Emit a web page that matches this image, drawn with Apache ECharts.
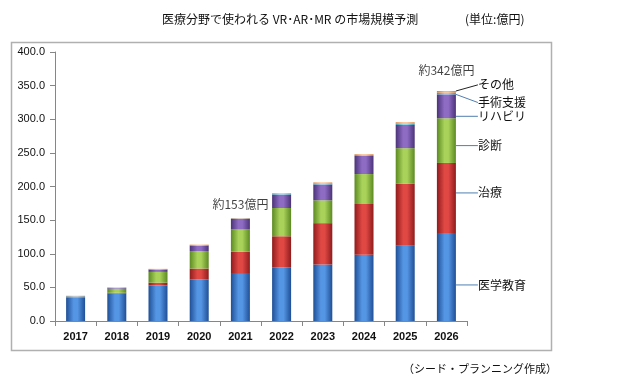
<!DOCTYPE html>
<html>
<head>
<meta charset="utf-8">
<script src="https://cdn.jsdelivr.net/npm/echarts@6/dist/echarts.min.js"></script>
<style>
html,body{margin:0;padding:0;background:#fff;}
#chart{width:629px;height:381px;}
</style>
</head>
<body>
<div id="chart"></div>
<script>
const categories = ['2017','2018','2019','2020','2021','2022','2023','2024','2025','2026'];
const yTicks = [0, 400, 50];
const seriesNames = ['医学教育','治療','診断','リハビリ','手術支援','その他'];
const eduValues   = [35, 41, 53, 62, 70, 80, 84, 98.5, 112, 131];
const treatValues = [0.5, 1, 4, 16, 33, 46, 61.5, 75.5, 92, 104];
const diagValues  = [0.5, 6, 16, 26, 33, 42, 34, 44.5, 53, 66.5];
const rehabValues = [0.5, 1, 3.5, 8, 16, 20, 23.5, 27, 34.5, 35.5];
const surgValues  = [0.5, 0.5, 0.5, 1, 0.5, 1, 1.5, 1.5, 2, 2.5];
const otherValues = [0.5, 0.5, 0.5, 0.5, 0.5, 1, 1.5, 1, 2, 2.5];
const totalCats   = ['2021', '2026'];
const totalValues = [153, 342];
const totalLabels = ['約153億円', '約342億円'];
const titleText = '医療分野で使われる VR･AR･MR の市場規模予測';
const unitText = '(単位:億円)';
const sourceText = '（シード・プランニング作成）';

const allValues = [eduValues, treatValues, diagValues, rehabValues, surgValues, otherValues];
const colors = [
  ['#1f4f95', '#5596e4'],
  ['#8f1c1c', '#e04844'],
  ['#5c8a22', '#a9d25a'],
  ['#4c3378', '#8e6cc4'],
  ['#3a95ad', '#8fd6e8'],
  ['#d87a30', '#fbb57c']
];
const labelDy = [8, -5, 5, 10, 9, -7];
const labelDx = [17, 17, 17, 17, 17, 17];
const lineColors = ['#4f7fb0','#4f7fb0','#4f7fb0','#4f7fb0','#4f7fb0','#222'];
const JP = '"Noto Sans CJK JP", "Noto Sans", sans-serif';

function grad(c) {
  return new echarts.graphic.LinearGradient(0, 0, 1, 0, [
    {offset: 0, color: c[0]},
    {offset: 0.4, color: c[1]},
    {offset: 0.6, color: c[1]},
    {offset: 1, color: c[0]}
  ]);
}

const lastIdx = categories.length - 1;
const series = seriesNames.map((name, s) => ({
  name: name,
  type: 'bar',
  stack: 'total',
  barWidth: 19,
  itemStyle: {color: grad(colors[s])},
  data: allValues[s].map((v, i) => i === lastIdx ? {
    value: v,
    label: {
      show: true, position: 'right', distance: 5,
      formatter: name, color: '#111', fontSize: 12, fontFamily: JP
    }
  } : v),
  labelLayout: function (p) {
    return p.dataIndex === lastIdx ? {dx: labelDx[s], dy: labelDy[s]} : {};
  },
  labelLine: {show: true, lineStyle: {color: lineColors[s], width: 1}},
  emphasis: {disabled: true}
}));

series.push({
  type: 'scatter',
  symbolSize: 0,
  data: totalCats.map((c, i) => ({
    value: [c, totalValues[i]],
    label: {
      show: true, position: 'top', distance: i === 0 ? 8 : 15,
      formatter: totalLabels[i], color: '#111', fontSize: 12, fontFamily: JP
    }
  })),
  z: 10
});

const chart = echarts.init(document.getElementById('chart'), null, {renderer: 'canvas'});
chart.setOption({
  animation: false,
  backgroundColor: '#fff',
  grid: {left: 55, right: 162, top: 52, bottom: 60},
  title: [
    {text: titleText, left: 157, top: 8, textStyle: {fontSize: 12, fontWeight: 'normal', color: '#111', fontFamily: JP}},
    {text: unitText, left: 460, top: 8, textStyle: {fontSize: 12, fontWeight: 'normal', color: '#111', fontFamily: JP}},
    {text: sourceText, left: 398, top: 358, textStyle: {fontSize: 11, fontWeight: 'normal', color: '#111', fontFamily: JP}}
  ],
  graphic: [{
    type: 'rect', left: 9, top: 40, shape: {width: 540, height: 308},
    style: {fill: 'none', stroke: '#b0b0b0', lineWidth: 1.5}, silent: true
  }],
  xAxis: {
    type: 'category',
    data: categories,
    axisLine: {lineStyle: {color: '#868686'}},
    axisTick: {show: true, alignWithLabel: false, length: 5, lineStyle: {color: '#868686'}},
    axisLabel: {color: '#111', fontSize: 11, fontWeight: 'bold', margin: 10, fontFamily: '"Liberation Sans", sans-serif'}
  },
  yAxis: {
    type: 'value',
    min: yTicks[0], max: yTicks[1], interval: yTicks[2],
    axisLine: {show: true, lineStyle: {color: '#868686'}},
    axisTick: {show: true, length: 5, lineStyle: {color: '#868686'}},
    splitLine: {show: false},
    axisLabel: {color: '#111', fontSize: 11, margin: 10, formatter: v => v.toFixed(1), fontFamily: '"Liberation Sans", sans-serif'}
  },
  series: series
});
</script>
</body>
</html>
